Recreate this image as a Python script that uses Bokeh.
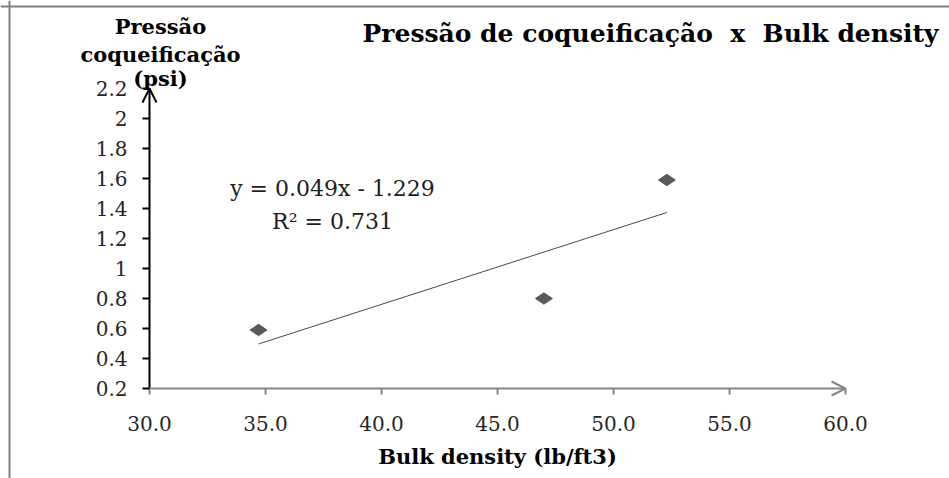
import numpy as np
from bokeh.plotting import figure
from bokeh.models import Range1d, FixedTicker, Label, Arrow, OpenHead, Span
from bokeh.embed import file_html
from bokeh.resources import INLINE

# ---- data ----
bulk_density = [34.7, 47.0, 52.3]
pressao = [0.59, 0.80, 1.59]
x_ticks = [30, 35, 40, 45, 50, 55, 60]
x_tick_labels = ["30.0", "35.0", "40.0", "45.0", "50.0", "55.0", "60.0"]
y_ticks = [0.2, 0.4, 0.6, 0.8, 1.0, 1.2, 1.4, 1.6, 1.8, 2.0, 2.2]
y_tick_labels = ["0.2", "0.4", "0.6", "0.8", "1", "1.2", "1.4", "1.6", "1.8", "2", "2.2"]
title_text = "Pressão de coqueificação\u00a0 x \u00a0Bulk density"
y_title_lines = ["Pressão", "coqueificação", "(psi)"]
x_title_text = "Bulk density (lb/ft3)"
equation_lines = ["y = 0.049x - 1.229", "R\u00b2 = 0.731"]

X0, X1 = x_ticks[0], x_ticks[-1]
Y0, Y1 = y_ticks[0], y_ticks[-1]

# ---- layout (pixels) ----
W, H = 949, 478
AX_L, AX_R, AX_T, AX_B = 149, 845, 88, 388   # where the axis box sits on the page
FONT = "DejaVu Serif"
BASE_FIX = 7  # alphabetic baseline correction for labels

kx = (AX_R - AX_L) / (X1 - X0)
ky = (AX_B - AX_T) / (Y1 - Y0)
xr = Range1d(X0 - AX_L / kx, X0 + (W - AX_L) / kx)
yr = Range1d(Y0 - (H - AX_B) / ky, Y1 + AX_T / ky)

p = figure(width=W, height=H, output_backend="svg", toolbar_location=None,
           x_range=xr, y_range=yr, min_border=0)
p.title.visible = False
p.outline_line_color = None
p.background_fill_color = "white"
p.border_fill_color = "white"
p.xgrid.visible = False
p.ygrid.visible = False

def dx(px):
    return X0 + (px - AX_L) / kx

def dy(py):
    return Y1 - (py - AX_T) / ky

def ty_(py):
    return dy(py - BASE_FIX)

# axes placed at the data origin of the reference's axis box
p.xaxis.fixed_location = Y0
p.yaxis.fixed_location = X0
p.xaxis.ticker = FixedTicker(ticks=x_ticks)
p.xaxis.major_label_overrides = {t: s for t, s in zip(x_ticks, x_tick_labels)}
p.yaxis.ticker = FixedTicker(ticks=y_ticks)
p.yaxis.major_label_overrides = {t: s for t, s in zip(y_ticks, y_tick_labels)}
for ax in (p.xaxis, p.yaxis):
    ax.axis_line_color = None
    ax.minor_tick_line_color = None
    ax.major_tick_in = 0
    ax.major_label_text_font = FONT
    ax.major_label_text_font_size = "20px"
    ax.major_label_text_color = "#262626"
p.xaxis.major_tick_out = 6
p.xaxis.major_tick_line_color = "#868686"
p.xaxis.major_tick_line_width = 2
p.xaxis.major_label_standoff = 21
p.yaxis.major_tick_out = 7
p.yaxis.major_tick_line_color = "black"
p.yaxis.major_tick_line_width = 2
p.yaxis.major_label_standoff = 15

# axis arrows
p.add_layout(Arrow(end=OpenHead(size=14, line_color="black", line_width=2),
                   x_start=X0, y_start=Y0, x_end=X0, y_end=Y1,
                   line_color="black", line_width=2))
p.add_layout(Arrow(end=OpenHead(size=14, line_color="#868686", line_width=2),
                   x_start=X0, y_start=Y0, x_end=X1, y_end=Y0,
                   line_color="#868686", line_width=2))

# trendline from linear fit
slope, intercept = np.polyfit(bulk_density, pressao, 1)
tx = [min(bulk_density), max(bulk_density)]
ty = [slope * v + intercept for v in tx]
p.line(tx, ty, line_color="#4a4a4a", line_width=1)

# points
p.scatter(bulk_density, pressao, marker="diamond", size=17, angle=np.pi / 2,
          fill_color="#595959", line_color="#595959")

# equation text
for line, py in zip(equation_lines, [195, 228]):
    p.add_layout(Label(x=dx(332), y=ty_(py), text=line, text_align="center",
                       text_baseline="alphabetic", text_font=FONT,
                       text_font_size="22px", text_color="#1e1e1e"))

# title
p.add_layout(Label(x=dx(362), y=ty_(40), text=title_text, text_align="left",
                   text_baseline="alphabetic", text_font=FONT, text_font_style="bold",
                   text_font_size="25px", text_color="black"))

# y-axis title (three lines)
for line, py in zip(y_title_lines, [33, 61, 85]):
    p.add_layout(Label(x=dx(160), y=ty_(py), text=line, text_align="center",
                       text_baseline="alphabetic", text_font=FONT, text_font_style="bold",
                       text_font_size="21px", text_color="black"))

# x-axis title
p.add_layout(Label(x=dx(497), y=ty_(463), text=x_title_text, text_align="center",
                   text_baseline="alphabetic", text_font=FONT, text_font_style="bold",
                   text_font_size="21px", text_color="black"))

# outer chart border (left and top edges visible)
p.add_layout(Span(location=dy(6), dimension="width", line_color="#808080", line_width=2))
p.add_layout(Span(location=dx(9), dimension="height", line_color="#808080", line_width=2))

open("out.html", "w").write(file_html(p, INLINE))
